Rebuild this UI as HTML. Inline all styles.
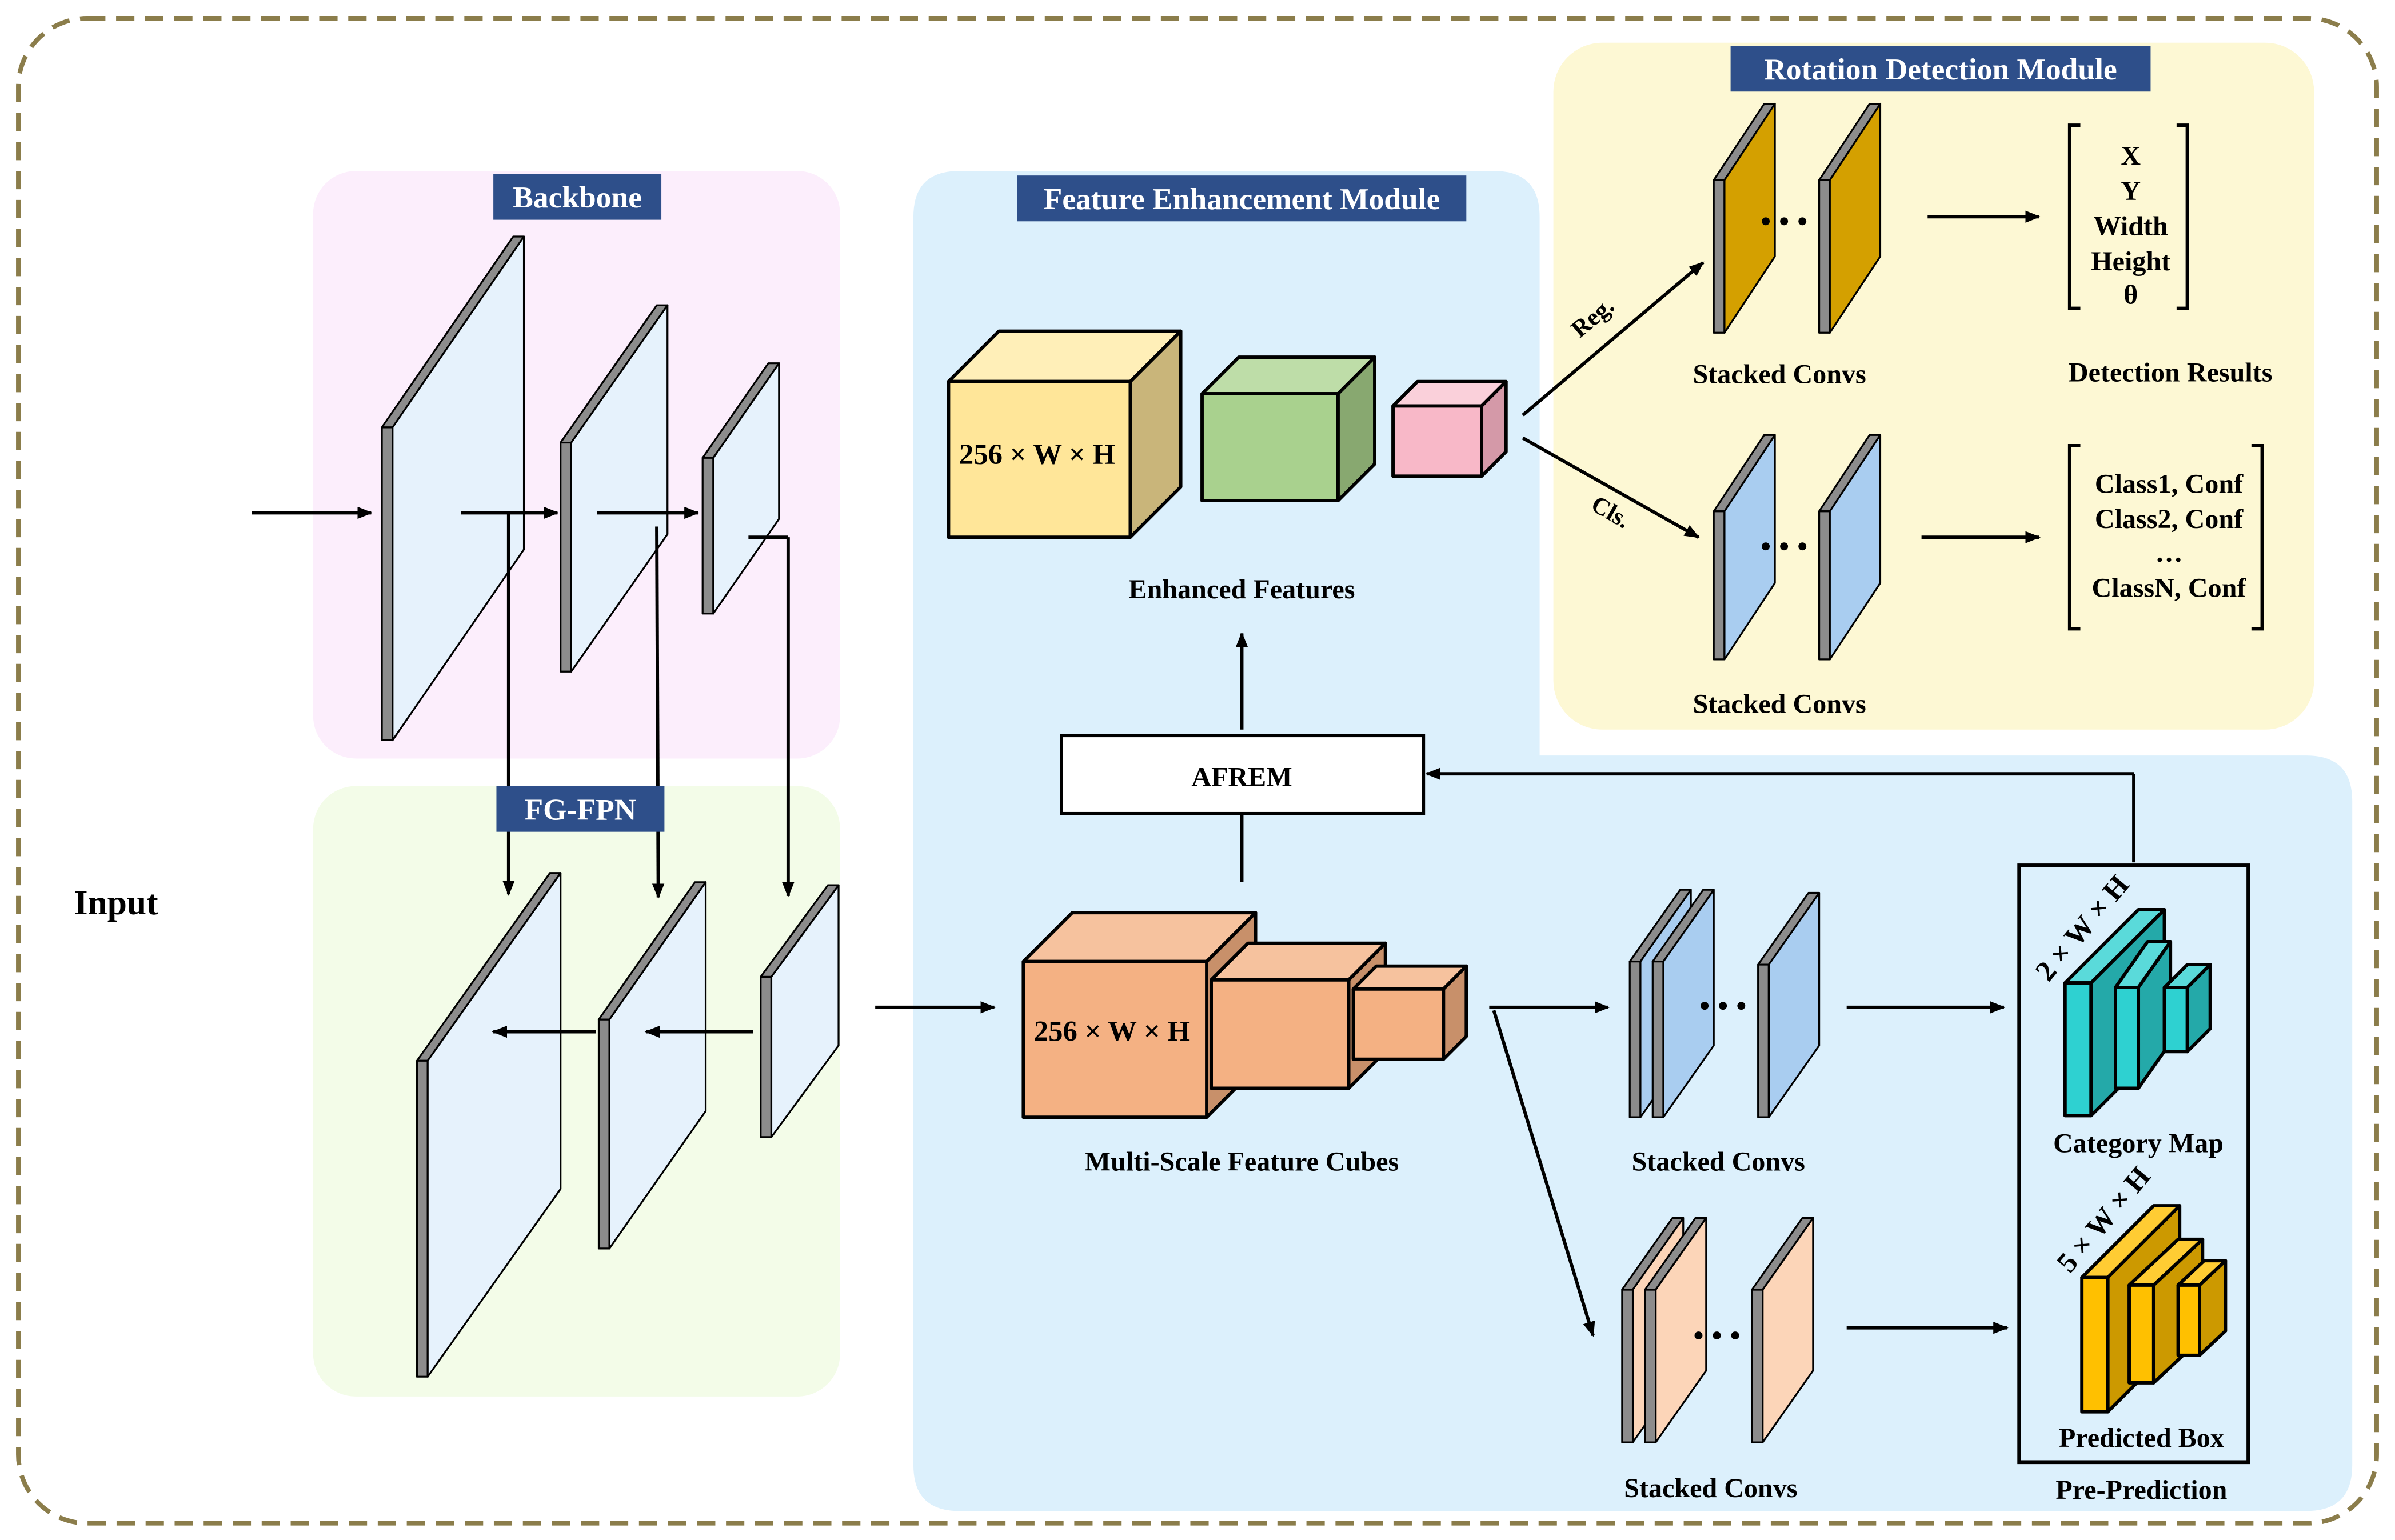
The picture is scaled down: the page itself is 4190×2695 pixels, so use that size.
<!DOCTYPE html>
<html><head><meta charset="utf-8"><style>
html,body{margin:0;padding:0;background:#fff}
svg{display:block}
text{font-family:"Liberation Serif",serif;font-weight:bold;fill:#000}
</style></head><body>
<svg id="s" xmlns="http://www.w3.org/2000/svg" width="4190" height="2695" viewBox="0 0 1568 1009" preserveAspectRatio="none">
<defs><marker id="a" markerWidth="10" markerHeight="8" refX="9" refY="4" orient="auto" markerUnits="userSpaceOnUse"><path d="M0,0 L10,4 L0,8 Z" fill="#000"/></marker></defs>
<rect x="12" y="12" width="1544" height="986" rx="45" fill="#fff" stroke="#8B7D4B" stroke-width="3" stroke-dasharray="12,7"/>
<rect x="205" y="112" width="345" height="385" rx="28" fill="#FCEEFC"/>
<rect x="205" y="515" width="345" height="400" rx="28" fill="#F3FCE8"/>
<path d="M628,112 H978 Q1008,112 1008,142 V495 H1510 Q1540,495 1540,525 V960 Q1540,990 1510,990 H628 Q598,990 598,960 V142 Q598,112 628,112 Z" fill="#DCF0FC"/>
<rect x="1017" y="28" width="498" height="450" rx="32" fill="#FDF8D4"/>
<g id="g"></g>
</svg>
<script>
const g=document.getElementById('g');let h='';
function poly(p,f,sw){return `<polygon points="${p.map(q=>q.join(',')).join(' ')}" fill="${f}" stroke="#000" stroke-width="${sw||1.5}" stroke-linejoin="round"/>`;}
function plane(x0,y0,y1,dx,dy,c){const w=7;
h+=poly([[x0,y0],[x0+dx,y0-dy],[x0+dx+w,y0-dy],[x0+w,y0]],'#8C8C8C',1.2);
h+=poly([[x0,y0],[x0+w,y0],[x0+w,y1],[x0,y1]],'#8C8C8C',1.2);
h+=poly([[x0+w,y0],[x0+w+dx,y0-dy],[x0+w+dx,y1-dy],[x0+w,y1]],c,1.2);}
function cube(x,y,w,ht,d,f,t,s,sw){
h+=poly([[x,y],[x+d,y-d],[x+w+d,y-d],[x+w,y]],t,sw);
h+=poly([[x+w,y],[x+w+d,y-d],[x+w+d,y+ht-d],[x+w,y+ht]],s,sw);
h+=poly([[x,y],[x+w,y],[x+w,y+ht],[x,y+ht]],f,sw);}
function cub(x,y,w,ht,dx,dy,f,t,s){
h+=poly([[x,y],[x+dx,y-dy],[x+w+dx,y-dy],[x+w,y]],t,2.2);
h+=poly([[x+w,y],[x+w+dx,y-dy],[x+w+dx,y+ht-dy],[x+w,y+ht]],s,2.2);
h+=poly([[x,y],[x+w,y],[x+w,y+ht],[x,y+ht]],f,2.2);}
function ar(x1,y1,x2,y2){h+=`<line x1="${x1}" y1="${y1}" x2="${x2}" y2="${y2}" stroke="#000" stroke-width="2.2" marker-end="url(#a)"/>`;}
function ln(p){h+=`<polyline points="${p.map(q=>q.join(',')).join(' ')}" fill="none" stroke="#000" stroke-width="2.2"/>`;}
function tx(x,y,s,fs,extra){h+=`<text x="${x}" y="${y}" font-size="${fs||18}" text-anchor="middle" ${extra||''}>${s}</text>`;}
function dots(x,y){for(let i=-1;i<=1;i++)h+=`<circle cx="${x+i*12}" cy="${y}" r="2.6" fill="#000"/>`;}
function lab(x,y,w,s){h+=`<rect x="${x}" y="${y}" width="${w}" height="30" fill="#2E4F8A"/><text x="${x+w/2}" y="${y+22}" font-size="20" text-anchor="middle" style="fill:#fff">${s}</text>`;}
const LB='#E6F2FC';
plane(250,280,485,86,125,LB);plane(367,290,440,63,90,LB);plane(460,300,402,43,62,LB);
plane(273,695,902,87,123,LB);plane(392,668,818,63,90,LB);plane(498,640,745,44,60,LB);
ar(165,336,243,336);ar(302,336,365,336);ar(391,336,457,336);
ar(333,336,333,586);ar(430,345,431,588);ln([[490,352],[516,352]]);ar(516,352,516,587);
ar(493,676,423,676);ar(390,676,323,676);ar(573,660,651,660);
lab(323,114,110,'Backbone');lab(325,515,110,'FG-FPN');lab(666,115,294,'Feature Enhancement Module');lab(1133,30,275,'Rotation Detection Module');
tx(76,599,'Input',23);
cube(621,250,119,102,33,'#FFE699','#FFEFB8','#C9B57A',2.2);
cube(787,258,89,70,24,'#A9D18E','#BEDDA8','#88A870',2.2);
cube(912,266,58,46,16,'#F8B8C8','#FAD0DA','#D499A8',2.2);
tx(679,304,'256 × W × H',19);tx(813,392,'Enhanced Features',18);
ar(813,478,813,415);
h+=`<rect x="695" y="482" width="237" height="51" fill="#fff" stroke="#000" stroke-width="2"/>`;tx(813,515,'AFREM',18);
ln([[813,578],[813,533]]);ln([[1397,565],[1397,507]]);ar(1397,507,934,507);
cube(670,630,120,102,32,'#F4B183','#F6C29E','#C8906A',2.2);
cube(793,642,90,71,24,'#F4B183','#F6C29E','#C8906A',2.2);
cube(886,648,59,46,15,'#F4B183','#F6C29E','#C8906A',2.2);
tx(728,682,'256 × W × H',19);tx(813,767,'Multi-Scale Feature Cubes',18);
ar(975,660,1053,660);ar(978,662,1043,875);
const BL='#A9CDF0',PE='#FCD5B8',GO='#D4A000';
plane(1067,630,732,33,47,BL);plane(1082,630,732,33,47,BL);plane(1151,632,732,33,47,BL);
dots(1128,659);tx(1125,767,'Stacked Convs',18);
plane(1062,845,945,33,47,PE);plane(1077,845,945,33,47,PE);plane(1147,845,945,33,47,PE);
dots(1124,875);tx(1120,981,'Stacked Convs',18);
ar(1209,660,1312,660);ar(1209,870,1314,870);
h+=`<rect x="1322" y="567" width="150" height="391" fill="none" stroke="#000" stroke-width="2.5"/>`;
tx(1402,982,'Pre-Prediction',18);tx(1400,755,'Category Map',18);tx(1402,948,'Predicted Box',18);
cub(1352,644,17,87,48,48,'#2ED1D1','#5ADADA','#24A9A9');
cub(1385,647,15,66,21,30,'#2ED1D1','#5ADADA','#24A9A9');
cub(1417,647,15,42,15,15,'#2ED1D1','#5ADADA','#24A9A9');
cub(1363,837,17,88,47,47,'#FFC000','#FFCC33','#CC9900');
cub(1394,842,16,64,32,30,'#FFC000','#FFCC33','#CC9900');
cub(1426,842,14,46,17,16,'#FFC000','#FFCC33','#CC9900');
h+=`<text x="0" y="0" font-size="19" text-anchor="middle" transform="translate(1368,612) rotate(-50)">2 × W × H</text>`;
h+=`<text x="0" y="0" font-size="19" text-anchor="middle" transform="translate(1382,803) rotate(-50)">5 × W × H</text>`;
plane(1122,118,218,33,50,GO);plane(1191,118,218,33,50,GO);dots(1168,145);
plane(1122,335,432,33,50,BL);plane(1191,335,432,33,50,BL);dots(1168,358);
tx(1165,251,'Stacked Convs',18);tx(1165,467,'Stacked Convs',18);
ar(997,272,1115,172);ar(997,287,1112,352);
h+=`<text font-size="16" text-anchor="middle" transform="translate(1046,212) rotate(-40)">Reg.</text>`;
h+=`<text font-size="16" text-anchor="middle" transform="translate(1052,340) rotate(30)">Cls.</text>`;
ar(1262,142,1335,142);ar(1258,352,1335,352);
ln([[1362,82],[1355,82],[1355,202],[1362,202]]);ln([[1425,82],[1432,82],[1432,202],[1425,202]]);
tx(1395,108,'X');tx(1395,131,'Y');tx(1395,154,'Width');tx(1395,177,'Height');tx(1395,199,'θ');
tx(1421,250,'Detection Results');
ln([[1362,292],[1355,292],[1355,412],[1362,412]]);ln([[1474,292],[1481,292],[1481,412],[1474,412]]);
tx(1420,323,'Class1, Conf');tx(1420,346,'Class2, Conf');tx(1420,368,'…');tx(1420,391,'ClassN, Conf');
g.innerHTML=h;
</script>
</body></html>
